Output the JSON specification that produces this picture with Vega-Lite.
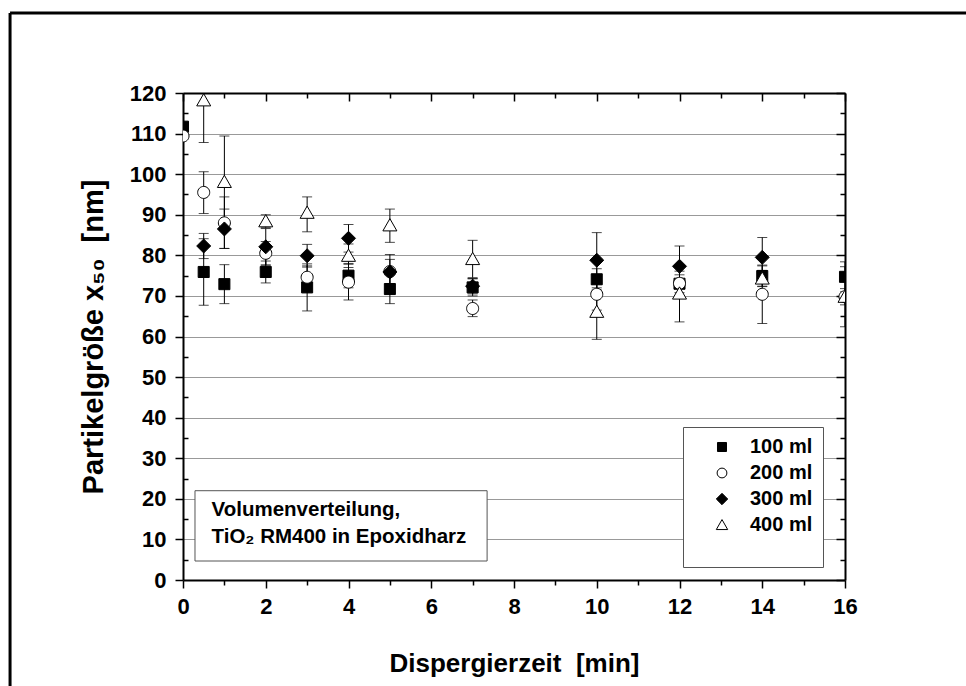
{
  "$schema": "https://vega.github.io/schema/vega-lite/v6.json",
  "width": 662,
  "height": 487,
  "autosize": {"type": "none"},
  "padding": {"left": 183, "top": 93, "right": 121, "bottom": 106},
  "background": "white",
  "config": {
    "font": "Liberation Sans",
    "view": {"stroke": null},
    "axis": {
      "domainColor": "black", "domainWidth": 2,
      "tickColor": "black", "tickWidth": 1.5,
      "labelColor": "black", "labelFont": "Liberation Sans", "labelFontWeight": "bold", "labelFontSize": 22,
      "titleColor": "black", "titleFont": "Liberation Sans", "titleFontWeight": "bold", "titleFontSize": 26
    },
    "legend": {
      "orient": "none", "legendX": 500, "legendY": 334,
      "strokeColor": "#555555", "fillColor": "white", "padding": 10,
      "symbolOffset": 19, "symbolStrokeWidth": 1,
      "labelFont": "Liberation Sans", "labelFontWeight": "bold", "labelFontSize": 20, "labelColor": "black",
      "labelOffset": 18, "rowPadding": 6,
      "titleOrient": "bottom", "titleFontSize": 18, "titlePadding": 4
    }
  },
  "datasets": {
    "pts": [
      {"t": 0, "s": "100 ml", "v": 111.7},
      {"t": 0.5, "s": "100 ml", "v": 75.9, "lo": 67.7, "hi": 84.1},
      {"t": 1, "s": "100 ml", "v": 72.9, "lo": 68.1, "hi": 77.7},
      {"t": 2, "s": "100 ml", "v": 75.9, "lo": 73.2, "hi": 78.6},
      {"t": 3, "s": "100 ml", "v": 72.1, "lo": 66.3, "hi": 77.9},
      {"t": 4, "s": "100 ml", "v": 75.0, "lo": 72.0, "hi": 78.0},
      {"t": 5, "s": "100 ml", "v": 71.7, "lo": 68.1, "hi": 75.3},
      {"t": 7, "s": "100 ml", "v": 72.1, "lo": 70.0, "hi": 74.2},
      {"t": 10, "s": "100 ml", "v": 74.1, "lo": 71.5, "hi": 76.7},
      {"t": 12, "s": "100 ml", "v": 73.0, "lo": 70.8, "hi": 75.2},
      {"t": 14, "s": "100 ml", "v": 74.9, "lo": 72.4, "hi": 77.4},
      {"t": 16, "s": "100 ml", "v": 74.7, "lo": 71.0, "hi": 78.4},
      {"t": 0, "s": "200 ml", "v": 109.4},
      {"t": 0.5, "s": "200 ml", "v": 95.5, "lo": 90.3, "hi": 100.6},
      {"t": 1, "s": "200 ml", "v": 88.0, "lo": 81.7, "hi": 94.4},
      {"t": 2, "s": "200 ml", "v": 80.5, "lo": 77.6, "hi": 83.4},
      {"t": 3, "s": "200 ml", "v": 74.6, "lo": 71.8, "hi": 77.4},
      {"t": 4, "s": "200 ml", "v": 73.4, "lo": 69.0, "hi": 77.8},
      {"t": 5, "s": "200 ml", "v": 76.0, "lo": 73.0, "hi": 79.0},
      {"t": 7, "s": "200 ml", "v": 66.9, "lo": 64.9, "hi": 69.0},
      {"t": 10, "s": "200 ml", "v": 70.4, "lo": 66.5, "hi": 74.3},
      {"t": 12, "s": "200 ml", "v": 73.1, "lo": 70.1, "hi": 76.1},
      {"t": 14, "s": "200 ml", "v": 70.4, "lo": 63.2, "hi": 77.6},
      {"t": 16, "s": "200 ml", "v": 69.8, "lo": 62.4, "hi": 77.2},
      {"t": 0.5, "s": "300 ml", "v": 82.3, "lo": 79.2, "hi": 85.4},
      {"t": 1, "s": "300 ml", "v": 86.5, "lo": 81.7, "hi": 91.4},
      {"t": 2, "s": "300 ml", "v": 82.1, "lo": 77.6, "hi": 86.6},
      {"t": 3, "s": "300 ml", "v": 79.9, "lo": 77.1, "hi": 82.7},
      {"t": 4, "s": "300 ml", "v": 84.2, "lo": 80.8, "hi": 87.6},
      {"t": 5, "s": "300 ml", "v": 75.9, "lo": 71.6, "hi": 80.2},
      {"t": 7, "s": "300 ml", "v": 72.4, "lo": 70.5, "hi": 74.3},
      {"t": 10, "s": "300 ml", "v": 78.8, "lo": 72.0, "hi": 85.6},
      {"t": 12, "s": "300 ml", "v": 77.3, "lo": 72.3, "hi": 82.3},
      {"t": 14, "s": "300 ml", "v": 79.5, "lo": 74.6, "hi": 84.4},
      {"t": 0.5, "s": "400 ml", "v": 118.2, "lo": 107.8, "hi": 128.6},
      {"t": 1, "s": "400 ml", "v": 98.1, "lo": 86.8, "hi": 109.4},
      {"t": 2, "s": "400 ml", "v": 88.4, "lo": 86.8, "hi": 90.0},
      {"t": 3, "s": "400 ml", "v": 90.5, "lo": 85.8, "hi": 94.4},
      {"t": 4, "s": "400 ml", "v": 79.9, "lo": 77.0, "hi": 82.8},
      {"t": 5, "s": "400 ml", "v": 87.4, "lo": 83.2, "hi": 91.4},
      {"t": 7, "s": "400 ml", "v": 79.1, "lo": 74.5, "hi": 83.7},
      {"t": 10, "s": "400 ml", "v": 66.1, "lo": 59.3, "hi": 72.9},
      {"t": 12, "s": "400 ml", "v": 70.6, "lo": 63.6, "hi": 77.6},
      {"t": 14, "s": "400 ml", "v": 74.3, "lo": 72.3, "hi": 76.3},
      {"t": 16, "s": "400 ml", "v": 69.8, "lo": 67.8, "hi": 71.8}
    ]
  },
  "data": {"name": "pts"},
  "resolve": {"axis": {"x": "independent", "y": "independent"}},
  "layer": [
    {
      "mark": {"type": "rule", "color": "black", "strokeWidth": 1, "clip": true},
      "encoding": {
        "x": {"field": "t", "type": "quantitative",
          "scale": {"domain": [0, 16], "nice": false, "zero": false},
          "axis": {
            "title": "Dispergierzeit\u00a0 [min]",
            "values": [0,1,2,3,4,5,6,7,8,9,10,11,12,13,14,15,16],
            "labelExpr": "datum.value % 2 == 0 ? datum.label : ''",
            "tickSize": {"condition": {"test": "datum.value % 2 == 0", "value": 8}, "value": 5},
            "labelPadding": 8, "titlePadding": 33, "grid": false, "labelFlush": false
          }},
        "y": {"field": "lo", "type": "quantitative",
          "scale": {"domain": [0, 120], "nice": false, "zero": false},
          "axis": {
            "title": "Partikelgröße x\u2085\u2080\u00a0 [nm]",
            "titleFontSize": 29,
            "values": [0,5,10,15,20,25,30,35,40,45,50,55,60,65,70,75,80,85,90,95,100,105,110,115,120],
            "labelExpr": "datum.value % 10 == 0 ? datum.label : ''",
            "tickSize": {"condition": {"test": "datum.value % 10 == 0", "value": 8}, "value": -5},
            "labelPadding": 9, "titlePadding": 21,
            "grid": true, "gridColor": "#999999", "gridWidth": 1.2,
            "gridOpacity": {"condition": {"test": "datum.value % 10 == 0 && datum.value > 0 && datum.value < 120", "value": 1}, "value": 0},
            "labelFlush": false
          }},
        "y2": {"field": "hi"}
      }
    },
    {
      "mark": {"type": "tick", "orient": "horizontal", "color": "black", "size": 10, "thickness": 1, "clip": true},
      "encoding": {
        "x": {"field": "t", "type": "quantitative", "scale": {"domain": [0, 16], "nice": false, "zero": false}, "axis": null},
        "y": {"field": "hi", "type": "quantitative", "scale": {"domain": [0, 120], "nice": false, "zero": false}, "axis": null}
      }
    },
    {
      "mark": {"type": "tick", "orient": "horizontal", "color": "black", "size": 10, "thickness": 1, "clip": true},
      "encoding": {
        "x": {"field": "t", "type": "quantitative", "scale": {"domain": [0, 16], "nice": false, "zero": false}, "axis": null},
        "y": {"field": "lo", "type": "quantitative", "scale": {"domain": [0, 120], "nice": false, "zero": false}, "axis": null}
      }
    },
    {
      "mark": {"type": "point", "filled": true, "strokeWidth": 1, "opacity": 1, "clip": true, "size": 196},
      "encoding": {
        "x": {"field": "t", "type": "quantitative", "scale": {"domain": [0, 16], "nice": false, "zero": false}, "axis": null},
        "y": {"field": "v", "type": "quantitative", "scale": {"domain": [0, 120], "nice": false, "zero": false}, "axis": null},
        "shape": {"field": "s", "type": "nominal",
          "scale": {"domain": ["100 ml", "200 ml", "300 ml", "400 ml"],
            "range": ["M-0.79,-0.79H0.79V0.79H-0.79Z", "M-0.86,0A0.86,0.86 0 1,0 0.86,0A0.86,0.86 0 1,0 -0.86,0Z", "M0,-1L1,0L0,1L-1,0Z", "M0,-0.95L1,0.8H-1Z"]},
          "legend": {"title": "\u00a0", "symbolSize": 130}},
        "fill": {"field": "s", "type": "nominal",
          "scale": {"domain": ["100 ml", "200 ml", "300 ml", "400 ml"], "range": ["black", "white", "black", "white"]},
          "legend": {"title": "\u00a0", "symbolSize": 130}},
        "stroke": {"field": "s", "type": "nominal",
          "scale": {"domain": ["100 ml", "200 ml", "300 ml", "400 ml"], "range": ["black", "black", "black", "black"]},
          "legend": {"title": "\u00a0", "symbolSize": 130}}
      }
    },
    {
      "mark": {"type": "point", "opacity": 0},
      "encoding": {
        "x": {"field": "t", "type": "quantitative", "scale": {"domain": [0, 16], "nice": false, "zero": false},
          "axis": {"orient": "top", "title": null, "labels": false, "grid": false,
            "values": [0,1,2,3,4,5,6,7,8,9,10,11,12,13,14,15,16],
            "tickSize": {"condition": {"test": "datum.value % 2 == 0", "value": -8}, "value": -5}}},
        "y": {"field": "v", "type": "quantitative", "scale": {"domain": [0, 120], "nice": false, "zero": false},
          "axis": {"orient": "right", "title": null, "labels": false, "grid": false,
            "values": [0,5,10,15,20,25,30,35,40,45,50,55,60,65,70,75,80,85,90,95,100,105,110,115,120],
            "tickSize": {"condition": {"test": "datum.value % 10 == 0", "value": -9}, "value": -5}}}
      }
    },
    {
      "data": {"values": [{}]},
      "mark": {"type": "rect", "fill": "white", "stroke": "#555555", "strokeWidth": 1},
      "encoding": {
        "x": {"datum": 0.29, "type": "quantitative", "scale": {"domain": [0, 16], "nice": false, "zero": false}, "axis": null},
        "x2": {"datum": 7.35},
        "y": {"datum": 4.68, "type": "quantitative", "scale": {"domain": [0, 120], "nice": false, "zero": false}, "axis": null},
        "y2": {"datum": 22.0}
      }
    },
    {
      "data": {"values": [{}]},
      "mark": {"type": "text", "text": ["Volumenverteilung,", "TiO\u2082 RM400 in Epoxidharz"], "align": "left", "baseline": "alphabetic",
        "font": "Liberation Sans", "fontWeight": "bold", "fontSize": 20.5, "lineHeight": 27, "color": "black"},
      "encoding": {
        "x": {"datum": 0.69, "type": "quantitative", "scale": {"domain": [0, 16], "nice": false, "zero": false}, "axis": null},
        "y": {"datum": 15.77, "type": "quantitative", "scale": {"domain": [0, 120], "nice": false, "zero": false}, "axis": null}
      }
    },
    {
      "data": {"values": [{}]},
      "mark": {"type": "rule", "color": "black", "strokeWidth": 3, "clip": false},
      "encoding": {
        "x": {"datum": -4.18, "type": "quantitative", "scale": {"domain": [0, 16], "nice": false, "zero": false}, "axis": null},
        "y": {"datum": -27, "type": "quantitative", "scale": {"domain": [0, 120], "nice": false, "zero": false}, "axis": null},
        "y2": {"datum": 139.7}
      }
    },
    {
      "data": {"values": [{}]},
      "mark": {"type": "rule", "color": "black", "strokeWidth": 3, "clip": false},
      "encoding": {
        "x": {"datum": -4.18, "type": "quantitative", "scale": {"domain": [0, 16], "nice": false, "zero": false}, "axis": null},
        "x2": {"datum": 19.5},
        "y": {"datum": 139.7, "type": "quantitative", "scale": {"domain": [0, 120], "nice": false, "zero": false}, "axis": null}
      }
    }
  ]
}
